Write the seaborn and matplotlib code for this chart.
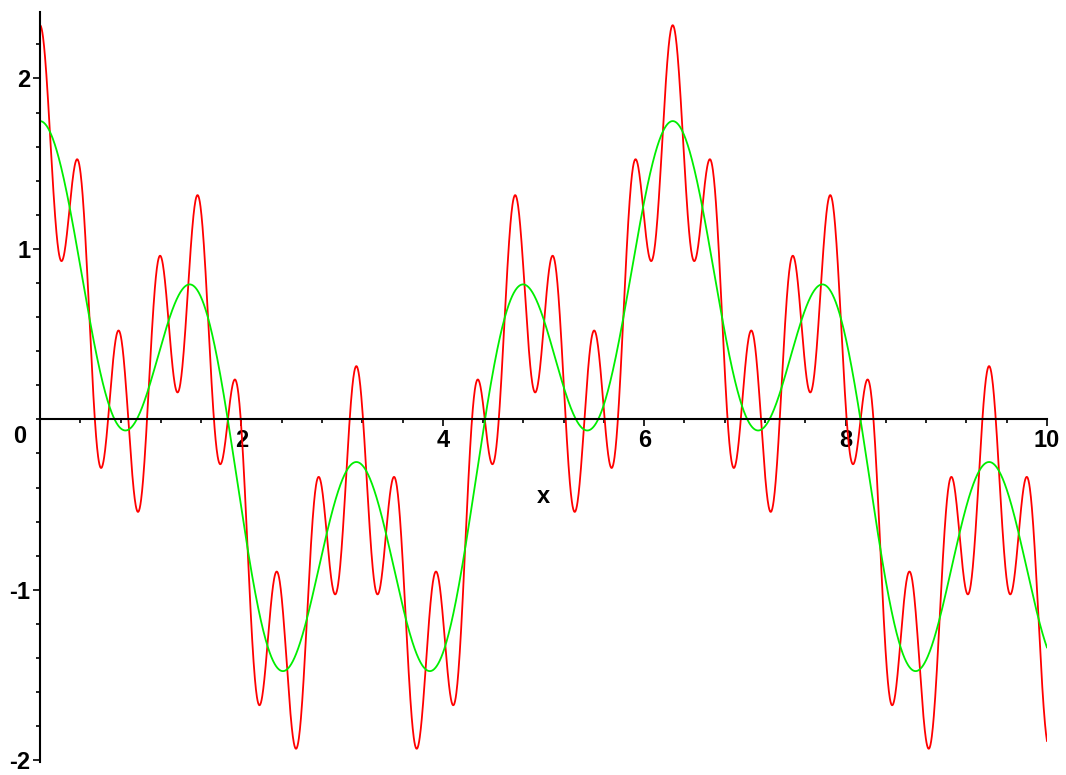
import numpy as np
import pandas as pd
import matplotlib
matplotlib.use("Agg")
import matplotlib.pyplot as plt
import seaborn as sns
from matplotlib.ticker import MultipleLocator

# Terms: amplitude and frequency of each cosine term
amplitudes = [1.0, 0.75, 0.5625]
frequencies = [1.0, 4.0, 16.0]
green_terms = 2   # green curve: first two terms
red_terms = 3     # red curve: all three terms
x_range = [0.0, 10.0]
xtick_labels = ["2", "4", "6", "8", "10"]
ytick_labels = ["-2", "-1", "1", "2"]

sns.set_theme(style="white")
plt.rcParams['font.family'] = ['Liberation Sans', 'DejaVu Sans']

xs = np.linspace(x_range[0], x_range[1], 3000)
def partial_sum(n):
    return sum(a * np.cos(f * xs) for a, f in zip(amplitudes[:n], frequencies[:n]))

df = pd.DataFrame({"x": np.concatenate([xs, xs]),
                   "y": np.concatenate([partial_sum(red_terms), partial_sum(green_terms)]),
                   "curve": ["red"] * len(xs) + ["green"] * len(xs)})

fig = plt.figure(figsize=(10.66, 7.75), dpi=100)
ax = fig.add_axes([40/1066, 13/775, 1007/1066, 750/775])
sns.lineplot(data=df, x="x", y="y", hue="curve", palette={"red": "#ff0000", "green": "#00ee00"},
             linewidth=1.3, legend=False, ax=ax, estimator=None, sort=False)

ax.set_xlim(0, 10)
ax.set_ylim(-2.01, 2.39)
for s in ["top", "right"]:
    ax.spines[s].set_visible(False)
ax.spines["left"].set_position(("data", 0))
ax.spines["bottom"].set_position(("data", 0))
for s in ["left", "bottom"]:
    ax.spines[s].set_color("black")
    ax.spines[s].set_linewidth(1.5)

ax.set_xticks([2, 4, 6, 8, 10])
ax.set_xticklabels(xtick_labels)
ax.set_yticks([-2, -1, 1, 2])
ax.set_yticklabels(ytick_labels)
ax.xaxis.set_minor_locator(MultipleLocator(0.4))
ax.yaxis.set_minor_locator(MultipleLocator(0.2))
ax.tick_params(axis="both", which="major", direction="out", length=5, width=1.2,
               color="black", labelcolor="black", labelsize=17, pad=2, bottom=True, left=True)
ax.tick_params(axis="both", which="minor", direction="out", length=3, width=1.2,
               color="black", bottom=True, left=True)
for lab in ax.get_xticklabels() + ax.get_yticklabels():
    lab.set_fontweight("bold")
ax.set_xlabel("")
ax.set_ylabel("")
ax.text(-0.2, -0.03, "0", ha="center", va="top", fontsize=17, fontweight="bold", color="black")
ax.text(5.0, -0.45, "x", ha="center", va="center", fontsize=17, fontweight="bold", color="black")
ax.grid(False)

fig.savefig("out.png", dpi=100)
